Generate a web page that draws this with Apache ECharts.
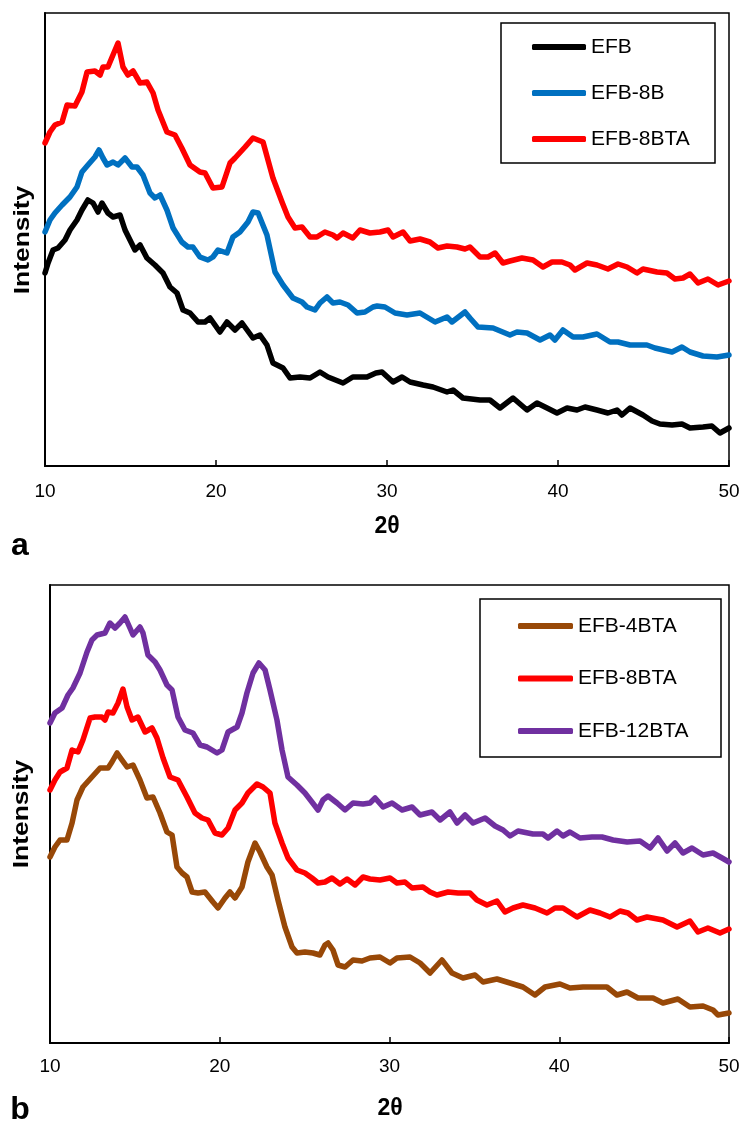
<!DOCTYPE html>
<html lang="en" style="height: 100%">
<head>
  <meta charset="utf-8">
</head>
<body style="height: 100%; margin: 0; background: #fff">
<div id="container" style="width: 743px; height: 1125px"></div>

<script type="text/javascript" src="https://cdn.jsdelivr.net/npm/echarts@6/dist/echarts.min.js"></script>
<script type="text/javascript">
  // 2θ tick labels
  var ticks2theta = [10, 20, 30, 40, 50];

  // panel a  -- [2θ, intensity] (arb. units)
  var efbA = [[10,193],[10.18,203],[10.47,216],[10.76,218],[11.17,226],[11.46,236],[11.87,246],[12.16,256],[12.51,266],[12.81,263],[13.1,254],[13.33,263],[13.68,253],[13.98,249],[14.39,251],[14.68,236],[14.97,226],[15.26,216],[15.56,221],[15.96,208],[16.43,201],[16.9,193],[17.31,179],[17.72,173],[18.07,156],[18.48,153],[18.95,144],[19.36,144],[19.65,148],[20.23,134],[20.64,144],[21.11,136],[21.52,143],[22.16,128],[22.57,131],[22.98,121],[23.33,103],[23.92,98],[24.33,88],[24.91,89],[25.5,88],[26.08,94],[26.55,89],[27.43,83],[28.0,89],[28.83,89],[29.35,93],[29.71,94],[30.35,84],[30.88,89],[31.35,84],[32.11,81],[32.69,79],[33.51,74],[33.86,76],[34.44,68],[35.44,66],[36.02,66],[36.61,58],[37.37,68],[38.19,56],[38.77,63],[39.36,58],[39.94,53],[40.53,58],[41.11,56],[41.58,59],[42.28,56],[42.92,53],[43.45,56],[43.74,51],[44.21,58],[44.97,51],[45.5,45],[45.96,42],[46.67,41],[47.25,42],[47.72,38],[48.48,39],[49.0,40],[49.47,33],[50,38]];
  var efb8bA = [[10,234],[10.29,246],[10.58,253],[11.0,261],[11.46,269],[11.87,279],[12.16,294],[12.51,301],[12.92,309],[13.16,316],[13.39,308],[13.63,301],[13.98,304],[14.27,301],[14.68,308],[15.09,299],[15.38,299],[15.73,291],[16.14,273],[16.43,268],[16.73,271],[17.13,256],[17.49,238],[18.0,224],[18.36,219],[18.65,219],[19.06,209],[19.53,206],[19.82,209],[20.12,216],[20.64,213],[20.99,229],[21.4,234],[21.87,244],[22.16,254],[22.46,253],[22.98,231],[23.45,194],[23.92,181],[24.5,168],[25.03,164],[25.32,159],[25.79,156],[26.08,163],[26.49,169],[26.84,163],[27.25,164],[27.72,161],[28.25,153],[28.71,154],[29.18,159],[29.42,160],[29.88,159],[30.47,153],[31.17,151],[31.93,153],[32.22,150],[32.81,144],[33.51,149],[33.8,144],[34.56,154],[34.85,148],[35.32,139],[36.2,138],[37.19,131],[37.6,134],[38.19,133],[38.95,126],[39.53,131],[39.82,126],[40.29,136],[40.88,129],[41.46,129],[42.28,132],[43.04,124],[43.51,124],[44.21,121],[45.2,121],[45.67,118],[46.67,114],[47.25,119],[47.72,114],[48.48,110],[49.3,109],[50,111]];
  var efb8btaA = [[10,323],[10.29,334],[10.58,341],[11.0,344],[11.29,361],[11.75,360],[12.16,374],[12.46,394],[12.92,395],[13.22,391],[13.39,399],[13.68,399],[14.27,423],[14.56,399],[14.85,391],[15.15,395],[15.56,383],[15.96,384],[16.32,373],[16.61,356],[17.13,334],[17.6,331],[18.0,318],[18.48,301],[19.06,294],[19.36,293],[19.82,278],[20.35,279],[20.82,303],[21.11,308],[21.7,319],[22.16,328],[22.75,324],[23.33,288],[23.86,264],[24.21,249],[24.62,238],[25.03,239],[25.5,229],[25.9,229],[26.37,234],[26.84,231],[27.08,228],[27.43,233],[28.0,228],[28.42,236],[29.0,233],[29.59,234],[30.06,236],[30.35,229],[30.94,234],[31.35,225],[31.93,227],[32.51,224],[32.98,218],[33.51,220],[34.09,219],[34.56,217],[34.85,219],[35.44,209],[35.91,209],[36.32,213],[36.78,203],[37.19,205],[37.89,208],[38.54,206],[39.12,199],[39.65,204],[40.23,204],[40.7,201],[40.99,196],[41.7,203],[42.28,201],[42.92,197],[43.51,202],[44.04,199],[44.62,193],[44.97,197],[45.79,194],[46.37,193],[46.84,187],[47.31,188],[47.72,192],[48.19,183],[48.77,187],[49.36,181],[50,185]];

  // panel b
  var efb4btaB = [[10,186],[10.29,196],[10.59,203],[11.0,203],[11.3,220],[11.59,243],[11.94,256],[12.47,266],[12.95,275],[13.42,275],[13.65,281],[13.95,290],[14.24,283],[14.54,276],[14.89,278],[15.3,263],[15.71,245],[16.07,246],[16.48,230],[16.89,211],[17.19,208],[17.48,176],[17.78,170],[18.07,166],[18.37,151],[18.72,150],[19.13,151],[19.6,141],[19.9,135],[20.31,145],[20.6,151],[20.9,145],[21.31,156],[21.66,181],[22.08,200],[22.37,191],[22.78,176],[23.08,168],[23.43,143],[23.84,116],[24.26,96],[24.55,90],[25.02,91],[25.49,90],[25.9,88],[26.2,98],[26.38,100],[26.67,93],[26.97,78],[27.38,76],[27.85,83],[28.38,82],[28.85,85],[29.44,86],[30.03,80],[30.44,85],[31.21,86],[31.8,80],[32.39,70],[33.09,83],[33.68,70],[34.33,65],[35.04,68],[35.51,61],[36.33,64],[37.1,60],[37.86,56],[38.57,48],[39.16,56],[40.04,59],[40.63,55],[41.4,56],[42.22,56],[42.81,56],[43.4,48],[43.99,51],[44.64,45],[45.52,45],[46.11,40],[46.99,44],[47.7,36],[48.47,37],[49.06,33],[49.35,28],[50,30]];
  var efb8btaB = [[10,253],[10.29,263],[10.59,271],[11.0,275],[11.3,293],[11.65,291],[11.94,303],[12.36,325],[12.65,326],[13.06,326],[13.24,323],[13.42,331],[13.71,330],[14.01,340],[14.3,354],[14.54,336],[14.83,323],[15.18,326],[15.6,311],[16.01,315],[16.3,305],[16.66,285],[17.07,266],[17.54,263],[18.07,246],[18.54,230],[18.95,225],[19.31,223],[19.72,210],[20.13,208],[20.49,215],[20.9,233],[21.31,240],[21.66,250],[22.19,259],[22.55,256],[22.96,250],[23.25,220],[23.67,200],[24.02,185],[24.55,173],[25.02,170],[25.43,165],[25.79,160],[26.2,161],[26.61,165],[27.08,159],[27.5,164],[27.97,158],[28.44,166],[28.85,164],[29.44,163],[30.03,165],[30.44,160],[30.91,161],[31.33,155],[31.97,156],[32.39,151],[32.8,148],[33.45,151],[34.04,150],[34.74,150],[35.15,143],[35.74,138],[36.33,142],[36.8,131],[37.28,135],[37.86,138],[38.57,135],[39.28,130],[39.75,135],[40.22,135],[41.05,126],[41.81,133],[42.4,130],[42.99,126],[43.58,132],[44.05,130],[44.58,123],[45.17,126],[46.11,123],[46.94,116],[47.7,122],[48.17,111],[48.76,115],[49.47,110],[50,114]];
  var efb12btaB = [[10,320],[10.29,330],[10.71,335],[11.06,348],[11.35,355],[11.77,370],[12.18,391],[12.47,403],[12.77,408],[13.24,410],[13.53,420],[13.83,415],[14.12,420],[14.42,426],[14.71,415],[14.89,408],[15.3,416],[15.48,410],[15.77,388],[16.19,381],[16.48,373],[16.89,358],[17.19,353],[17.54,326],[17.95,313],[18.42,310],[18.84,298],[19.25,296],[19.84,290],[20.13,293],[20.49,311],[21.02,316],[21.31,330],[21.6,350],[21.96,370],[22.31,380],[22.67,373],[22.96,353],[23.37,323],[23.67,293],[24.02,266],[24.55,258],[25.02,250],[25.43,241],[25.79,233],[26.08,243],[26.38,247],[26.91,240],[27.38,233],[27.85,240],[28.44,239],[28.85,240],[29.15,245],[29.62,236],[30.15,240],[30.74,233],[31.33,236],[31.8,228],[32.5,231],[32.98,223],[33.56,231],[33.98,220],[34.45,228],[34.92,220],[35.63,225],[36.22,217],[36.69,213],[37.1,207],[37.57,212],[38.45,209],[39.04,209],[39.34,205],[39.87,212],[40.22,207],[40.63,211],[41.22,205],[41.93,206],[42.52,206],[43.17,203],[44.0,201],[44.76,202],[45.35,195],[45.82,205],[46.35,192],[46.82,200],[47.29,190],[47.82,195],[48.47,188],[49.06,190],[49.59,185],[50,181]];

  var FONT = 'Liberation Sans, Arial, sans-serif';

  var dom = document.getElementById('container');
  var myChart = echarts.init(dom, null, { renderer: 'canvas' });

  function xAxisFor(gridIndex, margin) {
    return {
      type: 'value', gridIndex: gridIndex,
      min: ticks2theta[0], max: ticks2theta[ticks2theta.length - 1], interval: 10,
      axisLine: { lineStyle: { color: '#000', width: 2 } },
      axisTick: { inside: true, length: 6, lineStyle: { color: '#000', width: 1.5 } },
      axisLabel: { color: '#000', fontSize: 19, fontFamily: FONT, margin: margin },
      splitLine: { show: false }
    };
  }
  function yAxisFor(gridIndex, max) {
    return {
      type: 'value', gridIndex: gridIndex, min: 0, max: max,
      axisLine: { show: true, lineStyle: { color: '#000', width: 2 } },
      axisTick: { show: false }, axisLabel: { show: false }, splitLine: { show: false }
    };
  }
  function line(name, data, color, xi) {
    return {
      name: name, type: 'line', xAxisIndex: xi, yAxisIndex: xi, data: data,
      symbol: 'none', smooth: false, color: color,
      lineStyle: { color: color, width: 5.5, cap: 'round', join: 'round' }
    };
  }
  function label(text, x, y, size, opts) {
    return Object.assign({
      type: 'text', x: x, y: y,
      style: { text: text, fill: '#000', fontSize: size, fontWeight: 'bold', fontFamily: FONT, align: 'center', verticalAlign: 'middle' }
    }, opts || {});
  }

  var option = {
    animation: false,
    backgroundColor: '#fff',
    grid: [
      { left: 45, top: 13, width: 684, height: 453, show: true, borderColor: '#000', borderWidth: 1.5 },
      { left: 50, top: 585, width: 679, height: 458, show: true, borderColor: '#000', borderWidth: 1.5 }
    ],
    xAxis: [xAxisFor(0, 16), xAxisFor(1, 14)],
    yAxis: [yAxisFor(0, 453), yAxisFor(1, 458)],
    legend: [
      {
        data: ['EFB', 'EFB-8B', 'EFB-8BTA'], orient: 'vertical', left: 532, top: 36.5,
        padding: 0, itemWidth: 54, itemHeight: 6, itemGap: 25, icon: 'roundRect',
        textStyle: { color: '#000', fontSize: 21, fontFamily: FONT }
      },
      {
        data: ['EFB-4BTA', 'EFB-8BTA', 'EFB-12BTA'], orient: 'vertical', left: 518, top: 615.5,
        padding: 0, itemWidth: 55, itemHeight: 6, itemGap: 31.5, icon: 'roundRect',
        textStyle: { color: '#000', fontSize: 21, fontFamily: FONT }
      }
    ],
    graphic: [
      { type: 'rect', shape: { x: 501, y: 23, width: 214, height: 140 }, style: { fill: 'none', stroke: '#000', lineWidth: 1.5 } },
      { type: 'rect', shape: { x: 480, y: 599, width: 241, height: 158 }, style: { fill: 'none', stroke: '#000', lineWidth: 1.5 } },
      label('Intensity', 23, 240, 22, { rotation: Math.PI / 2, scaleX: 1.2 }),
      label('Intensity', 22, 814, 22, { rotation: Math.PI / 2, scaleX: 1.2 }),
      label('2θ', 387, 527, 23),
      label('2θ', 390, 1109, 23),
      label('a', 20, 546, 32),
      label('b', 20, 1110, 32)
    ],
    series: [
      line('EFB', efbA, '#000000', 0),
      line('EFB-8B', efb8bA, '#0070C0', 0),
      line('EFB-8BTA', efb8btaA, '#FF0000', 0),
      line('EFB-4BTA', efb4btaB, '#984807', 1),
      line('EFB-8BTA', efb8btaB, '#FF0000', 1),
      line('EFB-12BTA', efb12btaB, '#7030A0', 1)
    ]
  };

  myChart.setOption(option);
  window.addEventListener('resize', myChart.resize);
</script>
</body>
</html>
